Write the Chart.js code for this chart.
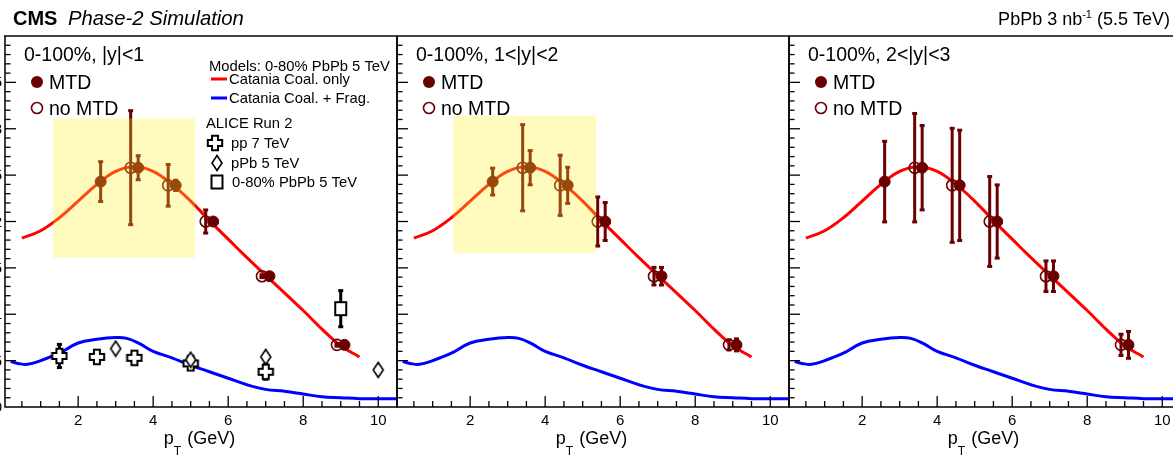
<!DOCTYPE html>
<html><head><meta charset="utf-8">
<script src="https://cdn.jsdelivr.net/npm/chart.js@4.4.1/dist/chart.umd.min.js"></script>
<style>
html,body{margin:0;padding:0;background:#fff;overflow:hidden;}
#wrap{position:relative;width:1173px;height:457px;overflow:hidden;background:#fff;}
#wrap canvas{position:absolute;left:0;top:0;}
</style></head><body>
<div id="wrap">
<canvas id="p1" width="1200" height="457"></canvas>
<canvas id="p2" width="1200" height="457"></canvas>
<canvas id="p3" width="1200" height="457"></canvas>
</div>
<script>
// ---------------- data ----------------
const panelTitles = ['0-100%, |y|<1', '0-100%, 1<|y|<2', '0-100%, 2<|y|<3'];
const xTickValues = [2, 4, 6, 8, 10];
const xTickLabels = ['2', '4', '6', '8', '10'];
const yTickValues = [0, 0.5, 1, 1.5, 2, 2.5, 3, 3.5];
const yTickLabels = ['0', '0.5', '1', '1.5', '2', '2.5', '3', '3.5'];

// projected Lambda_c/D0 points (same central values in all rapidity bins)
const xMTD   = [2.6, 3.6, 4.6, 5.6, 7.1, 9.1];
const yMTD   = [2.43, 2.58, 2.39, 2.00, 1.41, 0.67];
const xNoMTD = [3.4, 4.4, 5.4, 6.9, 8.9];
const yNoMTD = [2.58, 2.39, 2.00, 1.41, 0.67];

// statistical uncertainties per rapidity bin
const errMTD_y01   = [0.22, 0.135, 0.06, 0.03, 0.02, 0.02];
const errNoMTD_y01 = [0.62, 0.23, 0.13, 0.02, 0.02];
const errMTD_y12   = [0.15, 0.19, 0.20, 0.21, 0.10, 0.07];
const errNoMTD_y12 = [0.47, 0.33, 0.27, 0.10, 0.06];
const errMTD_y23   = [0.44, 0.46, 0.60, 0.40, 0.17, 0.15];
const errNoMTD_y23 = [0.59, 0.62, 0.49, 0.17, 0.12];

// Catania model curves
const coalOnlyX = [0.5, 1.0, 1.5, 2.0, 2.5, 3.0, 3.5, 4.0, 4.5, 5.0, 5.5, 6.0, 6.5, 7.0, 7.5, 8.0, 8.5, 9.0, 9.5];
const coalOnlyY = [1.82, 1.90, 2.04, 2.22, 2.40, 2.54, 2.59, 2.54, 2.40, 2.22, 2.01, 1.81, 1.61, 1.42, 1.23, 1.04, 0.84, 0.66, 0.54];
const coalFragX = [0.2, 0.4, 0.65, 1.0, 1.5, 2.0, 2.5, 3.0, 3.3, 3.65, 4.0, 4.5, 5.0, 5.5, 6.0, 6.5, 7.0, 7.5, 8.0, 8.5, 9.0, 9.5, 10.0, 10.5];
const coalFragY = [0.49, 0.47, 0.46, 0.50, 0.58, 0.69, 0.73, 0.75, 0.74, 0.68, 0.60, 0.53, 0.45, 0.38, 0.31, 0.24, 0.19, 0.17, 0.14, 0.11, 0.10, 0.09, 0.09, 0.09];

// ALICE Run 2 measurements
const alicePPX = [1.5, 2.5, 3.5, 5.0, 7.0];
const alicePPY = [0.55, 0.54, 0.53, 0.47, 0.38];
const alicePPErr = [0.13, 0.03, 0.03, 0.04, 0.085];
const alicePPbX = [3.0, 5.0, 7.0, 10.0];
const alicePPbY = [0.63, 0.51, 0.54, 0.40];
const alicePPbErr = [0.02, 0.03, 0.04, 0.02];
const alicePbPbX = [9.0];
const alicePbPbY = [1.06];
const alicePbPbErr = [0.20];

// highlighted region [xmin, xmax, ymin, ymax] per panel
const highlightBox = [[1.33, 5.12, 1.61, 3.11], [1.55, 5.36, 1.66, 3.14], null];

// ---------------- layout / style ----------------
const FONT = '"Liberation Sans", Arial, Helvetica, sans-serif';
const PANEL_LEFT = [5, 397, 789];
const PANEL_W = 392;
const TOP = 36, BOTTOM = 407, CW = 1200, CH = 457;
const DARK = '#6a0000';

function pts(xs, ys) { return xs.map((x, i) => ({x: x, y: ys[i]})); }

function markerCanvas(w, h, draw) {
  const c = document.createElement('canvas'); c.width = w; c.height = h;
  const g = c.getContext('2d'); draw(g, w / 2, h / 2); return c;
}
const crossImg = markerCanvas(18, 18, (g, cx, cy) => {
  const t = 3, r = 7.2;
  const p = [[-t,-r],[t,-r],[t,-t],[r,-t],[r,t],[t,t],[t,r],[-t,r],[-t,t],[-r,t],[-r,-t],[-t,-t]];
  g.beginPath(); p.forEach((q, i) => { const fn = i ? 'lineTo' : 'moveTo'; g[fn](cx + q[0], cy + q[1]); }); g.closePath();
  g.fillStyle = '#fff'; g.fill(); g.lineWidth = 2; g.strokeStyle = '#000'; g.stroke();
});
const diamondImg = markerCanvas(14, 18, (g, cx, cy) => {
  g.beginPath(); g.moveTo(cx, cy - 7.5); g.lineTo(cx + 5, cy); g.lineTo(cx, cy + 7.5); g.lineTo(cx - 5, cy); g.closePath();
  g.fillStyle = '#fff'; g.fill(); g.lineWidth = 1.6; g.strokeStyle = '#000'; g.stroke();
});
const squareImg = markerCanvas(15, 17, (g, cx, cy) => {
  g.fillStyle = '#fff'; g.fillRect(cx - 5.5, cy - 6.5, 11, 13);
  g.lineWidth = 2; g.strokeStyle = '#000'; g.strokeRect(cx - 5.5, cy - 6.5, 11, 13);
});

function txt(ctx, s, x, y, size, opts) {
  opts = opts || {};
  ctx.font = (opts.style || '') + ' ' + size + 'px ' + FONT;
  ctx.fillStyle = opts.color || '#000';
  ctx.textAlign = opts.align || 'left';
  ctx.textBaseline = 'alphabetic';
  ctx.fillText(s, x, y);
  return ctx.measureText(s).width;
}

function makePlugin(p) {
  return {
    id: 'panelDeco' + p,
    beforeDatasetDraw(chart, args) {
      const ds = chart.data.datasets[args.index];
      if (!ds.errBars) return;
      const ctx = chart.ctx, xs = chart.scales.x, ys = chart.scales.y, a = chart.chartArea;
      ctx.save();
      ctx.beginPath(); ctx.rect(a.left, a.top, a.right - a.left, a.bottom - a.top); ctx.clip();
      ctx.strokeStyle = ds.errColor; ctx.fillStyle = ds.errColor; ctx.lineWidth = 3;
      ds.data.forEach((d, i) => {
        const e = ds.errBars[i]; if (!e) return;
        const px = xs.getPixelForValue(d.x);
        const y1 = ys.getPixelForValue(d.y + e), y2 = ys.getPixelForValue(d.y - e);
        ctx.beginPath(); ctx.moveTo(px, y1); ctx.lineTo(px, y2); ctx.stroke();
        ctx.fillRect(px - 2.5, y1 - 1, 5, 3); ctx.fillRect(px - 2.5, y2 - 2, 5, 3);
      });
      ctx.restore();
    },
    afterDatasetsDraw(chart) {
      const b = highlightBox[p]; if (!b) return;
      const ctx = chart.ctx, xs = chart.scales.x, ys = chart.scales.y;
      const x1 = xs.getPixelForValue(b[0]), x2 = xs.getPixelForValue(b[1]);
      const y1 = ys.getPixelForValue(b[3]), y2 = ys.getPixelForValue(b[2]);
      ctx.save(); ctx.fillStyle = 'rgba(255,240,40,0.3)'; ctx.fillRect(x1, y1, x2 - x1, y2 - y1); ctx.restore();
    },
    afterDraw(chart) {
      const ctx = chart.ctx, xs = chart.scales.x, ys = chart.scales.y, a = chart.chartArea;
      const L = a.left;
      ctx.save();
      // frame
      ctx.strokeStyle = '#444'; ctx.lineWidth = 2;
      ctx.beginPath(); ctx.moveTo(L - 1, a.top); ctx.lineTo(a.right + 1, a.top); ctx.stroke();
      ctx.strokeStyle = '#000'; ctx.lineWidth = 1.5;
      ctx.beginPath(); ctx.moveTo(L, a.top); ctx.lineTo(L, a.bottom); ctx.lineTo(a.right, a.bottom); ctx.lineTo(a.right, a.top); ctx.stroke();
      // x ticks (inward)
      ctx.lineWidth = 1.3;
      for (let k = 1; k <= 21; k++) {
        const v = k * 0.5; const px = xs.getPixelForValue(v);
        if (px < L + 1 || px > a.right - 1) continue;
        const len = (k % 4 === 0) ? 11 : 6;
        ctx.beginPath(); ctx.moveTo(px, a.bottom); ctx.lineTo(px, a.bottom - len); ctx.stroke();
      }
      // y ticks (inward)
      for (let k = 1; k <= 39; k++) {
        const v = k * 0.1; const py = ys.getPixelForValue(v);
        const len = (k % 5 === 0) ? 11 : 5.5;
        ctx.beginPath(); ctx.moveTo(L, py); ctx.lineTo(L + len, py); ctx.stroke();
      }
      // x tick labels
      xTickValues.forEach((v, i) => txt(ctx, xTickLabels[i], xs.getPixelForValue(v), 425, 15, {align: 'center'}));
      // y tick labels (only first panel has them; they fall mostly outside the visible page)
      if (p === 0) yTickValues.forEach((v, i) => txt(ctx, yTickLabels[i], L - 3, ys.getPixelForValue(v) + 5, 15, {align: 'right'}));
      // x axis title p_T (GeV)
      ctx.font = '18px ' + FONT; const wp = ctx.measureText('p').width; const wg = ctx.measureText(' (GeV)').width;
      ctx.font = '12px ' + FONT; const wt = ctx.measureText('T').width;
      const cx = (L + a.right) / 2 - 2; let sx = cx - (wp + wt + wg) / 2;
      txt(ctx, 'p', sx, 444, 18); txt(ctx, 'T', sx + wp, 455, 12); txt(ctx, ' (GeV)', sx + wp + wt + 1, 444, 18);
      // panel title
      txt(ctx, panelTitles[p], L + 19, 61, 19.5);
      // MTD legend
      ctx.fillStyle = DARK; ctx.beginPath(); ctx.arc(L + 32, 82, 6, 0, 2 * Math.PI); ctx.fill();
      txt(ctx, 'MTD', L + 44, 88.5, 19.5);
      ctx.strokeStyle = DARK; ctx.lineWidth = 1.6; ctx.beginPath(); ctx.arc(L + 32, 108, 5.5, 0, 2 * Math.PI); ctx.stroke();
      txt(ctx, 'no MTD', L + 44, 115, 19.5);
      if (p === 0) {
        txt(ctx, 'Models: 0-80% PbPb 5 TeV', 209, 71, 14.8);
        ctx.lineWidth = 3; ctx.strokeStyle = '#ff0000'; ctx.beginPath(); ctx.moveTo(211, 79); ctx.lineTo(227, 79); ctx.stroke();
        txt(ctx, 'Catania Coal. only', 229, 84, 14.8);
        ctx.strokeStyle = '#0000ff'; ctx.beginPath(); ctx.moveTo(211, 98); ctx.lineTo(227, 98); ctx.stroke();
        txt(ctx, 'Catania Coal. + Frag.', 229, 103, 14.8);
        txt(ctx, 'ALICE Run 2', 206, 128, 14.8);
        ctx.drawImage(crossImg, 215 - 9, 143 - 9);
        txt(ctx, 'pp 7 TeV', 231, 148, 14.8);
        ctx.drawImage(diamondImg, 217 - 7, 163 - 9);
        txt(ctx, 'pPb 5 TeV', 231, 168, 14.8);
        ctx.drawImage(squareImg, 217 - 7.5, 182 - 8.5);
        txt(ctx, '0-80% PbPb 5 TeV', 232, 187, 14.8);
        // header
        txt(ctx, 'CMS', 13, 25, 20, {style: 'bold'});
        txt(ctx, 'Phase-2 Simulation', 68, 25, 20.3, {style: 'italic'});
      }
      if (p === 2) {
        ctx.font = '18px ' + FONT; const w1 = ctx.measureText('PbPb 3 nb').width, w3 = ctx.measureText(' (5.5 TeV)').width;
        ctx.font = '11px ' + FONT; const w2 = ctx.measureText('-1').width;
        const s = 1170 - (w1 + w2 + w3);
        txt(ctx, 'PbPb 3 nb', s, 25, 18); txt(ctx, '-1', s + w1, 18, 11); txt(ctx, ' (5.5 TeV)', s + w1 + w2, 25, 18);
      }
      ctx.restore();
    }
  };
}

const errSets = [[errMTD_y01, errNoMTD_y01], [errMTD_y12, errNoMTD_y12], [errMTD_y23, errNoMTD_y23]];

for (let p = 0; p < 3; p++) {
  const L = PANEL_LEFT[p];
  const datasets = [
    {label: 'MTD', data: pts(xMTD, yMTD), errBars: errSets[p][0], errColor: DARK, order: 1,
     pointRadius: 5.5, pointBackgroundColor: DARK, pointBorderColor: DARK, pointBorderWidth: 1, showLine: false},
    {label: 'no MTD', data: pts(xNoMTD, yNoMTD), errBars: errSets[p][1], errColor: DARK, order: 2,
     pointRadius: 5.5, pointBackgroundColor: 'rgba(0,0,0,0)', pointBorderColor: DARK, pointBorderWidth: 1.6, showLine: false},
    {label: 'Catania Coal. only', data: pts(coalOnlyX, coalOnlyY), showLine: true, borderColor: '#ff0000', borderWidth: 3,
     pointRadius: 0, tension: 0.4, order: 8},
    {label: 'Catania Coal. + Frag.', data: pts(coalFragX, coalFragY), showLine: true, borderColor: '#0000ff', borderWidth: 3,
     pointRadius: 0, tension: 0.4, order: 9}
  ];
  if (p === 0) {
    datasets.push(
      {label: 'pp 7 TeV', data: pts(alicePPX, alicePPY), errBars: alicePPErr, errColor: '#000', order: 4, pointStyle: crossImg, pointRadius: 7, showLine: false},
      {label: 'pPb 5 TeV', data: pts(alicePPbX, alicePPbY), errBars: alicePPbErr, errColor: '#000', order: 3, pointStyle: diamondImg, pointRadius: 7, showLine: false},
      {label: '0-80% PbPb 5 TeV', data: pts(alicePbPbX, alicePbPbY), errBars: alicePbPbErr, errColor: '#000', order: 5, pointStyle: squareImg, pointRadius: 7, showLine: false}
    );
  }
  new Chart(document.getElementById('p' + (p + 1)), {
    type: 'scatter',
    data: {datasets: datasets},
    options: {
      responsive: false, animation: false, events: [],
      layout: {autoPadding: false, padding: {left: L, right: CW - (L + PANEL_W), top: TOP, bottom: CH - BOTTOM}},
      scales: {
        x: {type: 'linear', min: 0.05, max: 10.5, display: false},
        y: {type: 'linear', min: 0, max: 4, display: false}
      },
      plugins: {legend: {display: false}, tooltip: {enabled: false}}
    },
    plugins: [makePlugin(p)]
  });
}
</script>
</body></html>
